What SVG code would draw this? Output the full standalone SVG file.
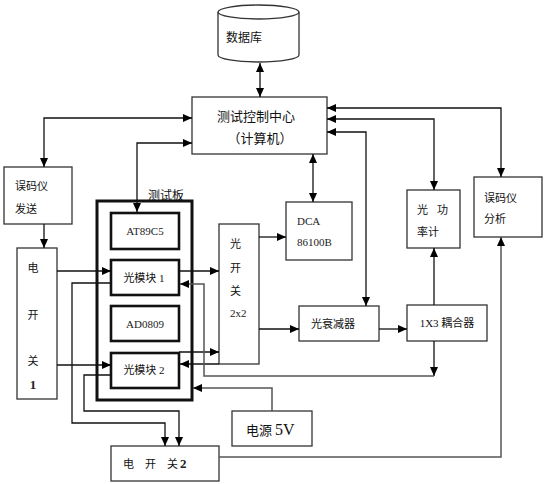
<svg xmlns="http://www.w3.org/2000/svg" width="550" height="484" viewBox="0 0 550 484">
<style>
.bx{fill:#fff;stroke:#333;stroke-width:1.3}
.tk{fill:#fff;stroke:#111;stroke-width:3}
.tk2{fill:#fff;stroke:#111;stroke-width:2.6}
.ln{fill:none;stroke:#111;stroke-width:1.3}
.gl{fill:none;stroke:#555;stroke-width:1.5}
.cj{font-family:"Noto Sans CJK SC","Noto Sans CJK JP",sans-serif;font-size:11px;fill:#111;dominant-baseline:central}
.lt{font-family:"Liberation Serif",serif;font-size:11px;fill:#222;dominant-baseline:central}
.mx{font-family:"Liberation Serif","Noto Sans CJK SC",serif;font-size:11px;fill:#111;dominant-baseline:central}
.c{text-anchor:middle}
</style>
<defs>
<marker id="a" markerUnits="userSpaceOnUse" markerWidth="9" markerHeight="8" refX="9" refY="4" orient="auto-start-reverse">
<path d="M0,0 L9,4 L0,8 z" fill="#000"/>
</marker>
</defs>

<g id="database">
<path class="bx" d="M218,12 V55 A40.5,7 0 0 0 299,55 V12"/>
<ellipse class="bx" cx="258.5" cy="12" rx="40.5" ry="7"/>
<text class="cj c" x="244" y="36" style="font-size:12px">数据库</text>
</g>

<g id="control-center">
<rect class="bx" x="192" y="97" width="135" height="57"/>
<text class="cj c" x="256" y="115" style="font-size:13px">测试控制中心</text>
<text class="cj c" x="260" y="137" style="font-size:13px">（计算机）</text>
</g>

<g id="ber-send">
<rect class="bx" x="4" y="167" width="68" height="57"/>
<text class="cj" x="15" y="185">误码仪</text>
<text class="cj" x="15" y="208">发送</text>
</g>

<g id="eswitch1">
<rect class="bx" x="17" y="248" width="40" height="151"/>
<text class="cj c" x="33" y="267">电</text>
<text class="cj c" x="33" y="314">开</text>
<text class="cj c" x="33" y="360">关</text>
<text class="lt c" x="33" y="384" style="font-weight:bold;font-size:13px">1</text>
</g>

<g id="test-board">
<rect class="tk" x="97" y="201" width="95" height="199"/>
<text class="cj" x="148" y="194" style="font-size:12px">测试板</text>
</g>

<g id="at89c5">
<rect class="tk2" x="111" y="213" width="68" height="36"/>
<text class="lt c" x="145" y="231">AT89C5</text>
</g>

<g id="optmod1">
<rect class="tk2" x="111" y="260" width="68" height="35"/>
<text class="mx c" x="144" y="278">光模块 1</text>
</g>

<g id="ad0809">
<rect class="tk2" x="111" y="306" width="68" height="35"/>
<text class="lt c" x="145" y="324">AD0809</text>
</g>

<g id="optmod2">
<rect class="tk2" x="111" y="353" width="68" height="35"/>
<text class="mx c" x="144" y="370">光模块 2</text>
</g>

<g id="optswitch">
<rect class="bx" x="219" y="224" width="40" height="140"/>
<text class="cj" x="230" y="243">光</text>
<text class="cj" x="230" y="267">开</text>
<text class="cj" x="230" y="290">关</text>
<text class="lt" x="230" y="313">2x2</text>
</g>

<g id="dca">
<rect class="bx" x="286" y="202" width="66" height="58"/>
<text class="lt" x="297" y="221">DCA</text>
<text class="lt" x="297" y="242">86100B</text>
</g>

<g id="attenuator">
<rect class="bx" x="299" y="306" width="80" height="35"/>
<text class="cj c" x="333" y="323">光衰减器</text>
</g>

<g id="coupler">
<rect class="bx" x="407" y="305" width="80" height="36"/>
<text class="mx c" x="447" y="323">1X3 耦合器</text>
</g>

<g id="powermeter">
<rect class="bx" x="407" y="190" width="53" height="58"/>
<text class="cj" x="417" y="209">光</text>
<text class="cj" x="437" y="209">功</text>
<text class="cj" x="417" y="231">率计</text>
</g>

<g id="ber-analyze">
<rect class="bx" x="474" y="177" width="68" height="60"/>
<text class="cj" x="484" y="197">误码仪</text>
<text class="cj" x="484" y="218">分析</text>
</g>

<g id="power5v">
<rect class="bx" x="232" y="411" width="80" height="35"/>
<text class="cj" x="246" y="429" style="font-size:13px">电源 <tspan style="font-family:'Liberation Serif',serif;font-size:16px">5V</tspan></text>
</g>

<g id="eswitch2">
<rect class="bx" x="111" y="446" width="108" height="35"/>
<text class="cj" x="123" y="463">电</text>
<text class="cj" x="145" y="463">开</text>
<text class="cj" x="167" y="463">关</text>
<text class="lt" x="180" y="463" style="font-weight:bold;font-size:13px">2</text>
</g>

<g id="connectors">
<path class="ln" d="M260,63 V97" marker-start="url(#a)" marker-end="url(#a)"/>
<path class="ln" d="M192,118 H44 V167" marker-start="url(#a)" marker-end="url(#a)"/>
<path class="ln" d="M192,143 H137 V212" marker-start="url(#a)" marker-end="url(#a)"/>
<path class="ln" d="M327,108 H501 V177" marker-start="url(#a)" marker-end="url(#a)"/>
<path class="ln" d="M327,119 H434 V190" marker-start="url(#a)" marker-end="url(#a)"/>
<path class="ln" d="M327,132 H366 V306" marker-start="url(#a)" marker-end="url(#a)"/>
<path class="ln" d="M313,154 V202" marker-start="url(#a)" marker-end="url(#a)"/>
<path class="ln" d="M44,224 V248" marker-end="url(#a)"/>
<path class="ln" d="M57,271 H111" marker-end="url(#a)"/>
<path class="ln" d="M57,365 H111" marker-end="url(#a)"/>
<path class="ln" d="M179,271 H219" marker-end="url(#a)"/>
<path class="ln" d="M179,352 H219" marker-end="url(#a)"/>
<path class="ln" d="M219,364 H180" marker-end="url(#a)"/>
<path class="ln" d="M259,237 H286" marker-end="url(#a)"/>
<path class="ln" d="M259,329 H299" marker-end="url(#a)"/>
<path class="ln" d="M379,329 H407" marker-end="url(#a)"/>
<path class="ln" d="M434,305 V248" marker-end="url(#a)"/>
<path class="ln" d="M434,341 V376" marker-end="url(#a)"/>
<path class="gl" d="M434,376 H204 V284 H180" marker-end="url(#a)"/>
<path class="gl" d="M272,411 V388 H193" marker-end="url(#a)"/>
<path class="ln" d="M111,283 H72 V423 H165 V446" marker-end="url(#a)"/>
<path class="ln" d="M111,375 H84 V411 H179 V446" marker-end="url(#a)"/>
<path class="gl" d="M219,457 H501 V237" marker-end="url(#a)"/>
</g>
</svg>
